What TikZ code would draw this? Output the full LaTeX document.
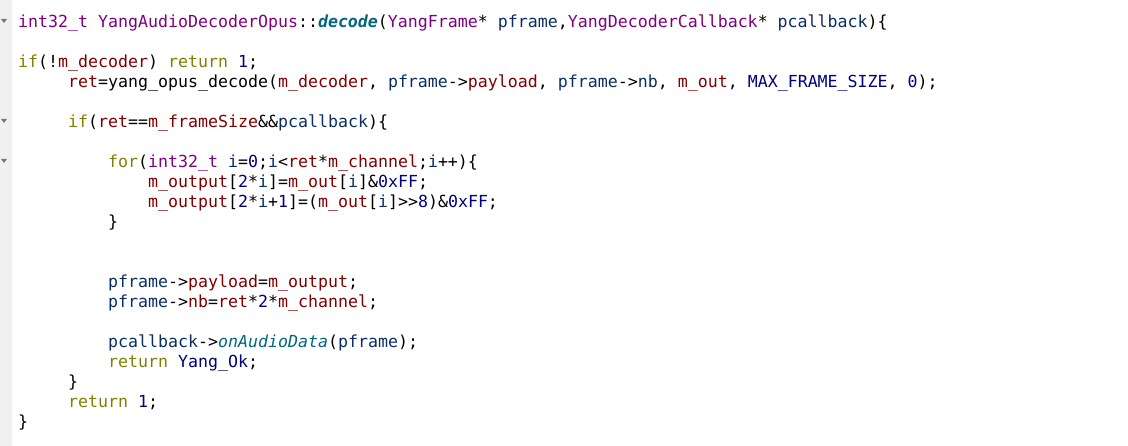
\documentclass[tikz,border=0pt]{standalone}
\usepackage{fontspec}
\usepackage{tikz}
\usetikzlibrary{positioning}
\newfontfamily\codefont{DejaVu Sans Mono}
\definecolor{kwcol}{HTML}{808000}
\definecolor{tycol}{HTML}{800080}
\definecolor{memcol}{HTML}{800000}
\definecolor{numcol}{HTML}{000080}
\definecolor{loccol}{HTML}{092E64}
\definecolor{fncol}{HTML}{00677C}
\definecolor{guttercol}{HTML}{F0F0F0}
\definecolor{foldcol}{HTML}{777777}
\newcommand\kw[1]{\textcolor{kwcol}{#1}}
\newcommand\ty[1]{\textcolor{tycol}{#1}}
\newcommand\mem[1]{\textcolor{memcol}{#1}}
\newcommand\cnum[1]{\textcolor{numcol}{#1}}
\newcommand\loc[1]{\textcolor{loccol}{#1}}
\newcommand\fdecl[1]{\textcolor{fncol}{\bfseries\itshape #1}}
\newcommand\vfn[1]{\textcolor{fncol}{\itshape #1}}
\tikzset{codeline/.style={anchor=base west, inner sep=0pt, font=\codefont\fontsize{16.6}{20}\selectfont}}

\begin{document}
\begin{tikzpicture}[x=1pt, y=-1pt]
	\useasboundingbox (0,0) rectangle (1128,446);
	\fill[guttercol] (0,0) rectangle (12,446);
	\foreach \y in {28,128,168}
		\fill[foldcol] (1,\y-9) -- (7,\y-9) -- (4,\y-5) -- cycle;
	\node[codeline] (sig) at (18,28) {\ty{int32\_t} \ty{YangAudioDecoderOpus}::\fdecl{decode}(\ty{YangFrame}* \loc{pframe},\ty{YangDecoderCallback}* \loc{pcallback})\{};
	\node[codeline] (chk) at (18,68) {\kw{if}(!\mem{m\_decoder}) \kw{return} \cnum{1};};
	\node[codeline] (dec) at (68,88) {\mem{ret}=yang\_opus\_decode(\mem{m\_decoder}, \loc{pframe}->\mem{payload}, \loc{pframe}->\loc{nb}, \mem{m\_out}, \cnum{MAX\_FRAME\_SIZE}, \cnum{0});};
	\node[codeline] (ifret) at (68,128) {\kw{if}(\mem{ret}==\mem{m\_frameSize}\&\&\loc{pcallback})\{};
	\node[codeline] (forl) at (108,168) {\kw{for}(\ty{int32\_t} \loc{i}=\cnum{0};\loc{i}<\mem{ret}*\mem{m\_channel};\loc{i}++)\{};
	\node[codeline] (lo) at (148,188) {\mem{m\_output}[\cnum{2}*\loc{i}]=\mem{m\_out}[\loc{i}]\&\cnum{0xFF};};
	\node[codeline] (hi) at (148,208) {\mem{m\_output}[\cnum{2}*\loc{i}+\cnum{1}]=(\mem{m\_out}[\loc{i}]>>\cnum{8})\&\cnum{0xFF};};
	\node[codeline] (endfor) at (108,228) {\}};
	\node[codeline] (pay) at (108,288) {\loc{pframe}->\mem{payload}=\mem{m\_output};};
	\node[codeline] (nb) at (108,308) {\loc{pframe}->\mem{nb}=\mem{ret}*\cnum{2}*\mem{m\_channel};};
	\node[codeline] (cb) at (108,348) {\loc{pcallback}->\vfn{onAudioData}(\loc{pframe});};
	\node[codeline] (ok) at (108,368) {\kw{return} \cnum{Yang\_Ok};};
	\node[codeline] (endif) at (68,388) {\}};
	\node[codeline] (ret1) at (68,408) {\kw{return} \cnum{1};};
	\node[codeline] (endfn) at (18,428) {\}};
\end{tikzpicture}
\end{document}
